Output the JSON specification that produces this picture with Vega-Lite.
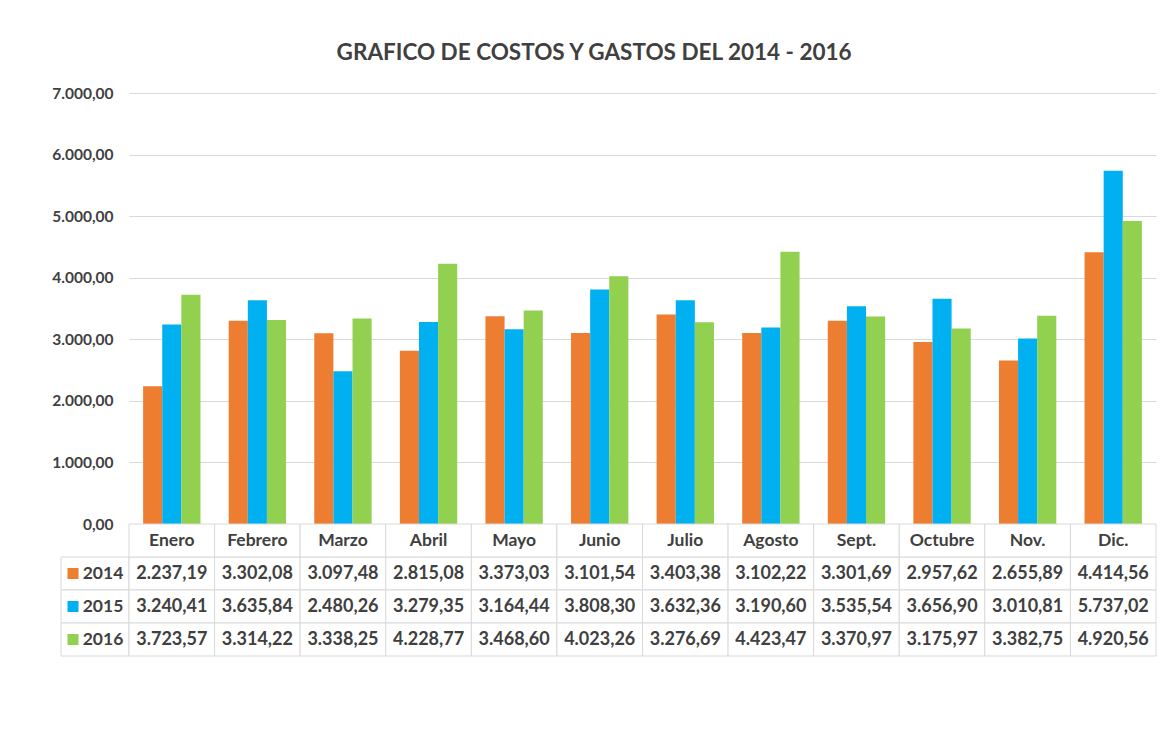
{
  "$schema": "https://vega.github.io/schema/vega-lite/v6.json",
  "background": "white",
  "padding": {"left": 51, "top": 41, "right": 5, "bottom": 5},
  "config": {
    "locale": {"number": {"decimal": ",", "thousands": ".", "grouping": [3], "currency": ["", ""]}},
    "view": {"stroke": null},
    "font": "Lato"
  },
  "title": {
    "text": "GRAFICO DE COSTOS Y GASTOS DEL 2014 - 2016",
    "font": "Lato",
    "fontSize": 22.5,
    "fontWeight": "bold",
    "color": "#404040",
    "anchor": "middle",
    "dx": -10,
    "offset": 22
  },
  "datasets": {
    "costos": [
      {"mes": "Enero", "anio": "2014", "valor": 2237.19},
      {"mes": "Febrero", "anio": "2014", "valor": 3302.08},
      {"mes": "Marzo", "anio": "2014", "valor": 3097.48},
      {"mes": "Abril", "anio": "2014", "valor": 2815.08},
      {"mes": "Mayo", "anio": "2014", "valor": 3373.03},
      {"mes": "Junio", "anio": "2014", "valor": 3101.54},
      {"mes": "Julio", "anio": "2014", "valor": 3403.38},
      {"mes": "Agosto", "anio": "2014", "valor": 3102.22},
      {"mes": "Sept.", "anio": "2014", "valor": 3301.69},
      {"mes": "Octubre", "anio": "2014", "valor": 2957.62},
      {"mes": "Nov.", "anio": "2014", "valor": 2655.89},
      {"mes": "Dic.", "anio": "2014", "valor": 4414.56},
      {"mes": "Enero", "anio": "2015", "valor": 3240.41},
      {"mes": "Febrero", "anio": "2015", "valor": 3635.84},
      {"mes": "Marzo", "anio": "2015", "valor": 2480.26},
      {"mes": "Abril", "anio": "2015", "valor": 3279.35},
      {"mes": "Mayo", "anio": "2015", "valor": 3164.44},
      {"mes": "Junio", "anio": "2015", "valor": 3808.30},
      {"mes": "Julio", "anio": "2015", "valor": 3632.36},
      {"mes": "Agosto", "anio": "2015", "valor": 3190.60},
      {"mes": "Sept.", "anio": "2015", "valor": 3535.54},
      {"mes": "Octubre", "anio": "2015", "valor": 3656.90},
      {"mes": "Nov.", "anio": "2015", "valor": 3010.81},
      {"mes": "Dic.", "anio": "2015", "valor": 5737.02},
      {"mes": "Enero", "anio": "2016", "valor": 3723.57},
      {"mes": "Febrero", "anio": "2016", "valor": 3314.22},
      {"mes": "Marzo", "anio": "2016", "valor": 3338.25},
      {"mes": "Abril", "anio": "2016", "valor": 4228.77},
      {"mes": "Mayo", "anio": "2016", "valor": 3468.60},
      {"mes": "Junio", "anio": "2016", "valor": 4023.26},
      {"mes": "Julio", "anio": "2016", "valor": 3276.69},
      {"mes": "Agosto", "anio": "2016", "valor": 4423.47},
      {"mes": "Sept.", "anio": "2016", "valor": 3370.97},
      {"mes": "Octubre", "anio": "2016", "valor": 3175.97},
      {"mes": "Nov.", "anio": "2016", "valor": 3382.75},
      {"mes": "Dic.", "anio": "2016", "valor": 4920.56}
    ]
  },
  "data": {"name": "costos"},
  "columns": 2,
  "bounds": "flush",
  "align": "each",
  "spacing": 0,
  "concat": [
    {
      "width": 68,
      "height": 431,
      "data": {"values": [{}]},
      "mark": {"type": "point", "opacity": 0},
      "encoding": {}
    },
    {
      "width": 1027,
      "height": 431,
      "mark": {"type": "bar"},
      "encoding": {
        "x": {
          "field": "mes", "type": "nominal",
          "sort": ["Enero", "Febrero", "Marzo", "Abril", "Mayo", "Junio", "Julio", "Agosto", "Sept.", "Octubre", "Nov.", "Dic."],
          "scale": {"paddingInner": 0.33, "paddingOuter": 0.165},
          "axis": null
        },
        "xOffset": {"field": "anio", "type": "nominal", "scale": {"paddingInner": 0, "paddingOuter": 0}},
        "y": {
          "field": "valor", "type": "quantitative",
          "scale": {"domain": [0, 7000], "nice": false},
          "axis": {
            "values": [0, 1000, 2000, 3000, 4000, 5000, 6000, 7000],
            "format": ",.2f",
            "title": null,
            "grid": true,
            "gridColor": "#d9d9d9",
            "gridWidth": 1,
            "domain": false,
            "ticks": false,
            "labelPadding": 16,
            "labelFont": "Lato",
            "labelFontSize": 15.5,
            "labelFontWeight": "bold",
            "labelColor": "#404040"
          }
        },
        "color": {
          "field": "anio", "type": "nominal",
          "scale": {"domain": ["2014", "2015", "2016"], "range": ["#ED7D31", "#00B0F0", "#92D050"]},
          "legend": null
        }
      }
    },
    {
      "width": 68,
      "height": 132,
      "transform": [{"filter": "datum.mes == 'Enero'"}],
      "encoding": {
        "y": {
          "field": "anio", "type": "nominal",
          "scale": {"domain": ["hdr", "2014", "2015", "2016"], "paddingInner": 0, "paddingOuter": 0},
          "axis": null
        }
      },
      "layer": [
        {
          "mark": {"type": "rect", "fill": "white", "stroke": "#d9d9d9", "strokeWidth": 1}
        },
        {
          "mark": {"type": "square", "size": 121, "opacity": 1, "filled": true},
          "encoding": {
            "x": {"datum": "sw", "type": "nominal", "scale": {"type": "point", "domain": ["sw", "yr"], "padding": 0.633, "align": 0.316}, "axis": null},
            "color": {"field": "anio", "type": "nominal", "scale": {"domain": ["2014", "2015", "2016"], "range": ["#ED7D31", "#00B0F0", "#92D050"]}, "legend": null}
          }
        },
        {
          "mark": {"type": "text", "font": "Lato", "fontSize": 17.5, "fontWeight": "bold", "color": "#404040", "align": "center", "baseline": "middle"},
          "encoding": {
            "x": {"datum": "yr", "type": "nominal"},
            "text": {"field": "anio", "type": "nominal"}
          }
        }
      ]
    },
    {
      "width": 1027,
      "height": 132,
      "encoding": {
        "x": {
          "field": "mes", "type": "nominal",
          "sort": ["Enero", "Febrero", "Marzo", "Abril", "Mayo", "Junio", "Julio", "Agosto", "Sept.", "Octubre", "Nov.", "Dic."],
          "scale": {"paddingInner": 0, "paddingOuter": 0},
          "axis": null
        },
        "y": {
          "field": "anio", "type": "nominal",
          "scale": {"domain": ["hdr", "2014", "2015", "2016"], "paddingInner": 0, "paddingOuter": 0},
          "axis": null
        }
      },
      "layer": [
        {
          "mark": {"type": "rect", "fill": "white", "stroke": "#d9d9d9", "strokeWidth": 1}
        },
        {
          "transform": [{"filter": "datum.anio == '2014'"}],
          "mark": {"type": "rect", "fill": "white", "stroke": "#d9d9d9", "strokeWidth": 1},
          "encoding": {"y": {"datum": "hdr", "type": "nominal"}}
        },
        {
          "transform": [{"filter": "datum.anio == '2014'"}],
          "mark": {"type": "text", "font": "Lato", "fontSize": 17.5, "fontWeight": "bold", "color": "#404040", "align": "center", "baseline": "middle"},
          "encoding": {
            "y": {"datum": "hdr", "type": "nominal"},
            "text": {"field": "mes", "type": "nominal"}
          }
        },
        {
          "mark": {"type": "text", "font": "Lato", "fontSize": 18, "fontWeight": "bold", "color": "#404040", "align": "center", "baseline": "middle"},
          "encoding": {
            "text": {"field": "valor", "type": "quantitative", "format": ",.2f"}
          }
        }
      ]
    }
  ]
}
